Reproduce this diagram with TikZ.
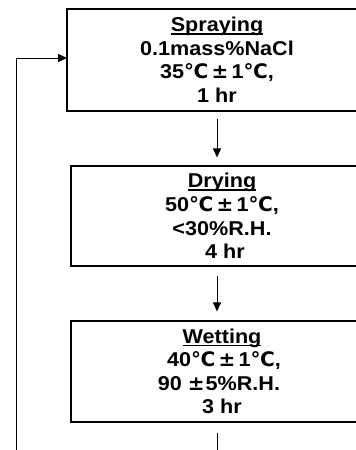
\documentclass[tikz,border=0pt]{standalone}
\usepackage{fontspec}
\setmainfont{Liberation Sans}[FakeStretch=1.08]
\newfontfamily\dvfont{DejaVu Sans}
\usetikzlibrary{arrows.meta,calc}
\newcommand\dc{{\dvfont\bfseries ℃}}
\newcommand\pmx{{\dvfont\bfseries\,±\,}}
\newcommand\pmtight{{\dvfont\bfseries ±}}
\newcommand\myul[1]{\setbox0=\hbox{#1}\rlap{\rule[-2.8pt]{\wd0}{1.3pt}}\box0}
\tikzset{
  box/.style={draw, line width=1.2pt, inner sep=0pt, align=center,
    font=\fontsize{20pt}{23.5pt}\selectfont\bfseries},
  arr/.style={line width=1pt, -{Triangle[length=9pt,width=8pt]}}
}
\begin{document}
\begin{tikzpicture}[x=1pt,y=-1pt]
\useasboundingbox (0,0) rectangle (356,450);
\clip (0,0) rectangle (356,450);
\node[box, minimum width=300pt, minimum height=102pt] (s) at (217,60)
  {\myul{Spraying}\\0.1mass\%NaCl\\35\dc\pmx1\dc,\\1 hr};
\node[box, minimum width=302pt, minimum height=100pt] (d) at (222,216)
  {\myul{Drying}\\50\dc\pmx1\dc,\\<30\%R.H.\\\hspace*{6pt}4 hr};
\node[box, minimum width=302pt, minimum height=101pt] (w) at (222,371.5)
  {\myul{Wetting}\\\hspace*{4pt}40\dc\pmx1\dc,\\\hspace*{-6pt}90 \pmtight\kern1pt 5\%R.H.\\3 hr};
\coordinate (br) at (217,470);
\coordinate (bl) at (16,470);
\coordinate (tl) at (16,58);
\coordinate (in) at (67,58);
\draw[arr, shorten <=7pt, shorten >=8pt] (s.south) -- (s.south |- d.north);
\draw[arr, shorten <=9pt, shorten >=9pt] (d.south -| s.south) -- (w.north -| s.south);
\draw[arr, shorten <=10pt] (w.south -| s.south) -- (br) -- (bl) -- (tl) -- (in);
\end{tikzpicture}
\end{document}
